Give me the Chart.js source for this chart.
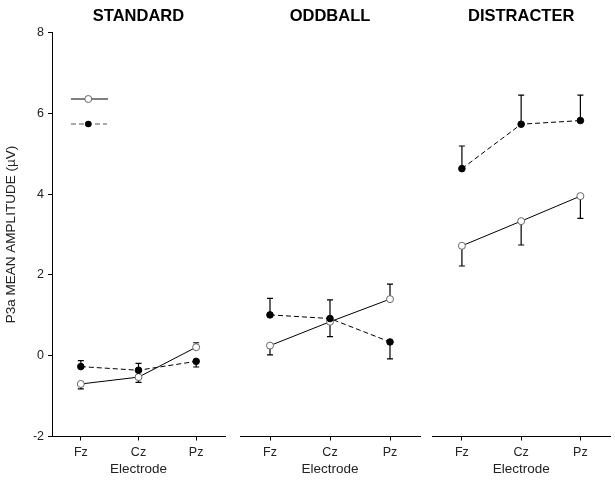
<!DOCTYPE html>
<html>
<head>
<meta charset="utf-8">
<script src="https://cdn.jsdelivr.net/npm/chart.js@4.4.1/dist/chart.umd.min.js"></script>
<style>
  body { margin: 0; background: #fff; width: 615px; height: 481px; position: relative; overflow: hidden; }
  canvas { position: absolute; top: 0; }
</style>
</head>
<body>
<canvas id="c1" width="230" height="481" style="left:0px"></canvas>
<canvas id="c2" width="195" height="481" style="left:230px"></canvas>
<canvas id="c3" width="190" height="481" style="left:425px"></canvas>
<script>
// data
const electrodes = ['Fz', 'Cz', 'Pz'];
const panelTitles = ['STANDARD', 'ODDBALL', 'DISTRACTER'];
const yTicks = [-2, 0, 2, 4, 6, 8];

// open circles, solid line
const openStandard = [-0.70, -0.53, 0.21];
const openOddball = [0.25, 0.84, 1.40];
const openDistracter = [2.72, 3.33, 3.95];
// filled circles, dashed line
const filledStandard = [-0.27, -0.36, -0.14];
const filledOddball = [1.01, 0.92, 0.34];
const filledDistracter = [4.63, 5.73, 5.82];

// one-sided error bars (sign = drawn up or down)
const openStandardErr = [-0.12, -0.13, 0.11];
const openOddballErr = [-0.23, -0.37, 0.37];
const openDistracterErr = [-0.50, -0.59, -0.55];
const filledStandardErr = [0.15, 0.17, -0.14];
const filledOddballErr = [0.41, 0.46, -0.42];
const filledDistracterErr = [0.56, 0.72, 0.63];

const FONT = 'Arial, "Liberation Sans", Helvetica, sans-serif';

// error bars drawn under the points
const errorBars = {
    id: 'errorBars',
    beforeDatasetsDraw(chart) {
        const ctx = chart.ctx;
        const xs = chart.scales.x, ys = chart.scales.y;
        ctx.save();
        ctx.strokeStyle = '#000';
        ctx.lineWidth = 1.2;
        chart.data.datasets.forEach(ds => {
            if (!ds.err) return;
            ds.data.forEach((v, i) => {
                const x = xs.getPixelForValue(i);
                const y0 = ys.getPixelForValue(v);
                const y1 = ys.getPixelForValue(v + ds.err[i]);
                ctx.beginPath();
                ctx.moveTo(x, y0); ctx.lineTo(x, y1);
                ctx.moveTo(x - 3, y1); ctx.lineTo(x + 3, y1);
                ctx.stroke();
            });
        });
        ctx.restore();
    }
};

// little key in the first panel (no text in the original)
const keyPlugin = {
    id: 'keyPlugin',
    afterDraw(chart) {
        if (chart.canvas.id !== 'c1') return;
        const ctx = chart.ctx;
        const a = chart.chartArea;
        ctx.save();
        // solid / open
        let y = a.top + 66.5;
        ctx.strokeStyle = '#000'; ctx.lineWidth = 1;
        ctx.beginPath(); ctx.moveTo(a.left + 19, y); ctx.lineTo(a.left + 56, y); ctx.stroke();
        ctx.beginPath(); ctx.arc(a.left + 36.3, y, 3.5, 0, Math.PI * 2);
        ctx.fillStyle = '#fff'; ctx.fill();
        ctx.strokeStyle = '#666'; ctx.stroke();
        // dashed / filled
        y = a.top + 91.5;
        ctx.strokeStyle = '#555'; ctx.setLineDash([5, 3]);
        ctx.beginPath(); ctx.moveTo(a.left + 19, y); ctx.lineTo(a.left + 55, y); ctx.stroke();
        ctx.setLineDash([]);
        ctx.beginPath(); ctx.arc(a.left + 36.3, y, 3.3, 0, Math.PI * 2);
        ctx.fillStyle = '#000'; ctx.fill();
        ctx.restore();
    }
};

function makePanel(id, title, openVals, openErr, filledVals, filledErr, showY, padL, padR) {
    const ctx = document.getElementById(id).getContext('2d');
    return new Chart(ctx, {
        type: 'line',
        data: {
            labels: electrodes,
            datasets: [
                {
                    data: filledVals, err: filledErr,
                    borderColor: '#000', borderWidth: 1, borderDash: [5, 3],
                    pointRadius: 3.3, pointBackgroundColor: '#000', pointBorderColor: '#000', pointBorderWidth: 1
                },
                {
                    data: openVals, err: openErr,
                    borderColor: '#000', borderWidth: 1,
                    pointRadius: 3.5, pointBackgroundColor: '#fff', pointBorderColor: '#666', pointBorderWidth: 1
                }
            ]
        },
        options: {
            responsive: false,
            animation: false,
            layout: { padding: { left: padL, right: padR, top: 0, bottom: 0 } },
            plugins: {
                legend: { display: false },
                tooltip: { enabled: false },
                title: {
                    display: true, text: title, fullSize: false,
                    color: '#000', font: { family: FONT, size: 16.5, weight: 'bold' },
                    padding: { top: 6.3, bottom: 6.4 }
                }
            },
            scales: {
                x: {
                    type: 'category', offset: true,
                    grid: { display: true, drawOnChartArea: false, drawTicks: true, tickLength: 4, color: '#000' },
                    border: { display: true, color: '#000', width: 1 },
                    ticks: { color: '#222', font: { family: FONT, size: 12.5 }, padding: 5, maxRotation: 0 },
                    title: { display: true, text: 'Electrode', color: '#222', font: { family: FONT, size: 13.5 }, padding: { top: 0, bottom: 3.5 } },
                    afterFit: s => { s.height = 44.5; }
                },
                y: {
                    display: showY,
                    min: -2, max: 8,
                    afterBuildTicks: s => { s.ticks = yTicks.map(v => ({ value: v })); },
                    grid: { display: true, drawOnChartArea: false, drawTicks: true, tickLength: 4, color: '#000' },
                    border: { display: true, color: '#000', width: 1 },
                    ticks: { color: '#222', font: { family: FONT, size: 12.5 }, padding: 4 },
                    title: { display: true, text: 'P3a MEAN AMPLITUDE (µV)', color: '#222', font: { family: FONT, size: 13.5 }, padding: { top: 3.6, bottom: 0 } },
                    afterFit: s => { if (showY) s.width = 52; }
                }
            }
        },
        plugins: [errorBars, keyPlugin]
    });
}

makePanel('c1', panelTitles[0], openStandard, openStandardErr, filledStandard, filledStandardErr, true, 0, 3.3);
makePanel('c2', panelTitles[1], openOddball, openOddballErr, filledOddball, filledOddballErr, false, 10, 5);
makePanel('c3', panelTitles[2], openDistracter, openDistracterErr, filledDistracter, filledDistracterErr, false, 7.3, 4.3);
</script>
</body>
</html>
